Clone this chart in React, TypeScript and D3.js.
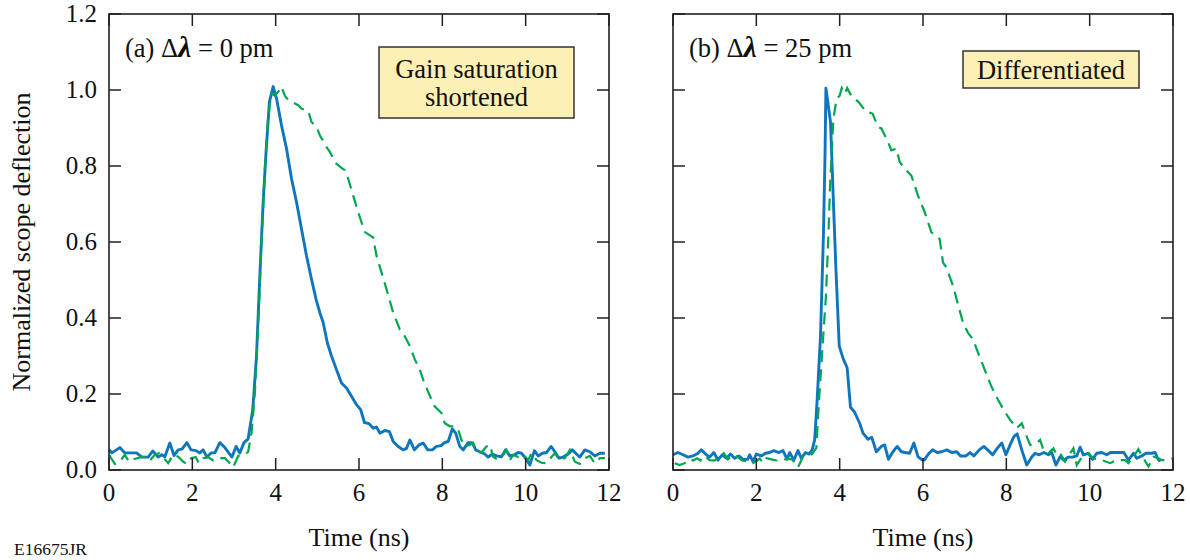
import React from "react";
import * as d3 from "d3";

// ---- data (time in ns, normalized deflection) ----
const TIME_TICKS = [0, 2, 4, 6, 8, 10, 12];
const Y_TICKS = [0, 0.2, 0.4, 0.6, 0.8, 1.0, 1.2];
const Y_TICK_LABELS = ["0.0", "0.2", "0.4", "0.6", "0.8", "1.0", "1.2"];

const leftBlue: [number, number][] = [
  [0, 0.053], [0.07, 0.045], [0.26, 0.059], [0.38, 0.045], [0.66, 0.045], [0.79, 0.034], [0.94, 0.034], [1.05, 0.05],
  [1.18, 0.034], [1.27, 0.04], [1.34, 0.035], [1.46, 0.071], [1.56, 0.038], [1.66, 0.053], [1.75, 0.055], [1.87, 0.072],
  [1.97, 0.053], [2.09, 0.051], [2.18, 0.045], [2.26, 0.053], [2.35, 0.034], [2.45, 0.045], [2.54, 0.045], [2.66, 0.072],
  [2.78, 0.059], [2.95, 0.034], [3.05, 0.062], [3.14, 0.045], [3.24, 0.072], [3.34, 0.082], [3.45, 0.159], [3.54, 0.3],
  [3.62, 0.511], [3.7, 0.705], [3.77, 0.838], [3.85, 0.969], [3.94, 1.009], [4.02, 0.978], [4.14, 0.907], [4.26, 0.846],
  [4.38, 0.767], [4.5, 0.705], [4.62, 0.634], [4.74, 0.564], [4.86, 0.502], [4.97, 0.449], [5.06, 0.414], [5.14, 0.388],
  [5.24, 0.335], [5.34, 0.3], [5.46, 0.264], [5.58, 0.229], [5.7, 0.216], [5.82, 0.194], [5.94, 0.172], [6.04, 0.159],
  [6.13, 0.125], [6.24, 0.122], [6.34, 0.11], [6.42, 0.113], [6.5, 0.097], [6.62, 0.104], [6.73, 0.101], [6.82, 0.075],
  [6.94, 0.062], [7.06, 0.053], [7.14, 0.057], [7.22, 0.079], [7.33, 0.053], [7.44, 0.066], [7.54, 0.071], [7.65, 0.053],
  [7.76, 0.053], [7.86, 0.062], [7.97, 0.064], [8.05, 0.072], [8.14, 0.075], [8.24, 0.108], [8.32, 0.097], [8.42, 0.062],
  [8.5, 0.053], [8.62, 0.072], [8.72, 0.072], [8.8, 0.053], [8.9, 0.048], [9.02, 0.042], [9.1, 0.034], [9.2, 0.042],
  [9.3, 0.037], [9.42, 0.035], [9.52, 0.053], [9.62, 0.037], [9.73, 0.04], [9.82, 0.046], [9.9, 0.044], [10.0, 0.031],
  [10.1, 0.013], [10.21, 0.051], [10.3, 0.037], [10.4, 0.044], [10.5, 0.046], [10.61, 0.062], [10.7, 0.048], [10.8, 0.031],
  [10.9, 0.034], [11.02, 0.042], [11.12, 0.053], [11.22, 0.042], [11.3, 0.034], [11.42, 0.053], [11.54, 0.048], [11.66, 0.037],
  [11.78, 0.044], [11.9, 0.044],
];

const leftGreen: [number, number][] = [
  [0, 0.04], [0.14, 0.016], [0.26, 0.022], [0.38, 0.04], [0.48, 0.022], [0.61, 0.029], [0.78, 0.034], [0.9, 0.035],
  [0.98, 0.025], [1.1, 0.04], [1.2, 0.044], [1.3, 0.034], [1.42, 0.018], [1.54, 0.04], [1.66, 0.035], [1.78, 0.022],
  [1.86, 0.016], [1.97, 0.031], [2.08, 0.034], [2.16, 0.018], [2.26, 0.031], [2.38, 0.034], [2.5, 0.025], [2.66, 0.031],
  [2.78, 0.031], [2.9, 0.018], [2.98, 0.007], [3.1, 0.037], [3.25, 0.04], [3.34, 0.048], [3.42, 0.097], [3.5, 0.2],
  [3.58, 0.38], [3.66, 0.6], [3.74, 0.79], [3.82, 0.93], [3.9, 0.991], [3.98, 0.985], [4.06, 0.995], [4.14, 1.009],
  [4.22, 0.985], [4.3, 0.974], [4.38, 0.969], [4.54, 0.96], [4.62, 0.951], [4.78, 0.945], [4.86, 0.916], [4.98, 0.903],
  [5.06, 0.881], [5.22, 0.85], [5.3, 0.837], [5.46, 0.806], [5.58, 0.795], [5.66, 0.789], [5.74, 0.767], [5.86, 0.722],
  [5.98, 0.679], [6.06, 0.652], [6.14, 0.626], [6.34, 0.612], [6.42, 0.564], [6.54, 0.52], [6.66, 0.476], [6.82, 0.414],
  [6.98, 0.37], [7.1, 0.352], [7.22, 0.326], [7.34, 0.291], [7.46, 0.264], [7.54, 0.238], [7.62, 0.216], [7.74, 0.185],
  [7.82, 0.167], [7.98, 0.15], [8.06, 0.123], [8.18, 0.115], [8.3, 0.115], [8.38, 0.106], [8.46, 0.079], [8.54, 0.062],
  [8.66, 0.066], [8.74, 0.071], [8.82, 0.048], [8.94, 0.046], [9.06, 0.062], [9.14, 0.066], [9.22, 0.035], [9.34, 0.026],
  [9.46, 0.04], [9.54, 0.053], [9.62, 0.026], [9.7, 0.04], [9.82, 0.034], [9.94, 0.04], [10.06, 0.026], [10.14, 0.044],
  [10.26, 0.026], [10.38, 0.019], [10.5, 0.018], [10.62, 0.034], [10.7, 0.044], [10.82, 0.026], [10.94, 0.031], [11.06, 0.053],
  [11.18, 0.022], [11.3, 0.016], [11.42, 0.031], [11.54, 0.037], [11.66, 0.018], [11.78, 0.031], [11.9, 0.031],
];

const rightBlue: [number, number][] = [
  [0, 0.04], [0.12, 0.046], [0.24, 0.04], [0.36, 0.034], [0.48, 0.037], [0.6, 0.044], [0.68, 0.053], [0.8, 0.04],
  [0.88, 0.034], [0.98, 0.046], [1.08, 0.026], [1.18, 0.04], [1.28, 0.031], [1.38, 0.042], [1.48, 0.031], [1.58, 0.037],
  [1.68, 0.028], [1.79, 0.028], [1.84, 0.04], [1.92, 0.022], [2.0, 0.042], [2.12, 0.037], [2.22, 0.044], [2.32, 0.046],
  [2.42, 0.051], [2.54, 0.046], [2.64, 0.051], [2.74, 0.028], [2.8, 0.046], [2.9, 0.026], [3.0, 0.051], [3.08, 0.031],
  [3.18, 0.046], [3.26, 0.042], [3.34, 0.053], [3.4, 0.079], [3.46, 0.185], [3.54, 0.352], [3.61, 0.617], [3.65, 0.837],
  [3.67, 1.005], [3.78, 0.916], [3.85, 0.705], [3.91, 0.529], [3.99, 0.326], [4.09, 0.291], [4.18, 0.269], [4.26, 0.165],
  [4.36, 0.152], [4.48, 0.123], [4.56, 0.097], [4.68, 0.081], [4.77, 0.086], [4.88, 0.048], [5.0, 0.062], [5.08, 0.066],
  [5.17, 0.028], [5.28, 0.048], [5.38, 0.062], [5.48, 0.048], [5.57, 0.046], [5.68, 0.044], [5.78, 0.071], [5.88, 0.035],
  [5.96, 0.028], [6.03, 0.026], [6.13, 0.042], [6.23, 0.053], [6.34, 0.046], [6.45, 0.048], [6.57, 0.053], [6.69, 0.046],
  [6.81, 0.048], [6.9, 0.037], [7.03, 0.037], [7.13, 0.046], [7.22, 0.037], [7.35, 0.053], [7.46, 0.062], [7.57, 0.051],
  [7.67, 0.04], [7.78, 0.057], [7.89, 0.071], [7.99, 0.04], [8.09, 0.066], [8.18, 0.088], [8.26, 0.095], [8.37, 0.053],
  [8.49, 0.013], [8.61, 0.034], [8.69, 0.044], [8.79, 0.04], [8.9, 0.046], [9.01, 0.04], [9.09, 0.046], [9.19, 0.013],
  [9.29, 0.035], [9.38, 0.026], [9.49, 0.034], [9.59, 0.034], [9.69, 0.037], [9.77, 0.06], [9.85, 0.04], [9.97, 0.044],
  [10.07, 0.028], [10.17, 0.044], [10.29, 0.046], [10.41, 0.04], [10.5, 0.046], [10.62, 0.046], [10.73, 0.046], [10.82, 0.046],
  [10.93, 0.026], [11.05, 0.044], [11.13, 0.031], [11.25, 0.037], [11.35, 0.044], [11.49, 0.044], [11.57, 0.046], [11.63, 0.031],
  [11.69, 0.022],
];

const rightGreen: [number, number][] = [
  [0.04, 0.018], [0.16, 0.013], [0.28, 0.018], [0.38, 0.028], [0.48, 0.025], [0.58, 0.031], [0.66, 0.025], [0.76, 0.037],
  [0.88, 0.026], [1.0, 0.025], [1.12, 0.034], [1.22, 0.044], [1.32, 0.028], [1.44, 0.04], [1.56, 0.034], [1.66, 0.025],
  [1.8, 0.022], [1.9, 0.016], [1.98, 0.022], [2.08, 0.03], [2.16, 0.019], [2.24, 0.031], [2.36, 0.028], [2.48, 0.025],
  [2.64, 0.025], [2.74, 0.031], [2.86, 0.028], [3.0, 0.007], [3.12, 0.035], [3.22, 0.037], [3.34, 0.042], [3.44, 0.058],
  [3.5, 0.176], [3.59, 0.326], [3.67, 0.458], [3.73, 0.617], [3.77, 0.749], [3.81, 0.837], [3.85, 0.925], [3.93, 0.978],
  [4.0, 0.985], [4.05, 1.005], [4.12, 0.99], [4.18, 1.005], [4.29, 0.983], [4.45, 0.969], [4.63, 0.943], [4.79, 0.938],
  [4.92, 0.903], [5.0, 0.899], [5.16, 0.864], [5.24, 0.841], [5.36, 0.846], [5.44, 0.811], [5.56, 0.793], [5.72, 0.775],
  [5.88, 0.722], [6.04, 0.679], [6.2, 0.626], [6.4, 0.608], [6.48, 0.546], [6.56, 0.533], [6.72, 0.485], [6.84, 0.436],
  [6.96, 0.388], [7.08, 0.361], [7.2, 0.344], [7.32, 0.309], [7.48, 0.264], [7.64, 0.22], [7.8, 0.185], [7.96, 0.154],
  [8.09, 0.132], [8.25, 0.11], [8.37, 0.123], [8.49, 0.088], [8.57, 0.066], [8.73, 0.071], [8.81, 0.079], [8.89, 0.053],
  [9.01, 0.044], [9.13, 0.057], [9.21, 0.04], [9.29, 0.044], [9.41, 0.022], [9.53, 0.044], [9.61, 0.057], [9.69, 0.013],
  [9.85, 0.04], [9.97, 0.044], [10.09, 0.031], [10.29, 0.026], [10.49, 0.018], [10.65, 0.026], [10.85, 0.026], [10.93, 0.018],
  [11.05, 0.035], [11.17, 0.055], [11.29, 0.031], [11.41, 0.009], [11.53, 0.035], [11.65, 0.031], [11.73, 0.026], [11.85, 0.026],
  [11.97, 0.031],
];

const PANEL_LABELS = ["(a)", "(b)"];
const PANEL_DELTAS = ["0 pm", "25 pm"];
const NOTE_A = ["Gain saturation", "shortened"];
const NOTE_B = ["Differentiated"];
const X_TITLE = "Time (ns)";
const Y_TITLE = "Normalized scope deflection";
const FIG_ID = "E16675JR";

const BLUE = "#0f76bd";
const GREEN = "#00a651";
const FONT = "Liberation Serif";
const TXT: React.CSSProperties = { fontFamily: '"Liberation Serif", "Times New Roman", Tinos, "DejaVu Serif", serif' };

const TOP = 14;
const BOTTOM = 470;
const TICK = 12;

type PanelProps = {
  x0: number;
  x1: number;
  blue: [number, number][];
  green: [number, number][];
  showYLabels: boolean;
  tag: string;
  delta: string;
  tagX: number;
  note: string[];
  box: { x: number; y: number; w: number; h: number };
};

function Panel(p: PanelProps) {
  const x = d3.scaleLinear().domain([0, 12]).range([p.x0, p.x1]);
  const y = d3.scaleLinear().domain([0, 1.2]).range([BOTTOM, TOP]);
  const line = d3
    .line<[number, number]>()
    .x((d) => x(d[0]))
    .y((d) => y(d[1]));
  const cx = p.box.x + p.box.w / 2;
  const lineGap = 28;
  const firstBase = p.note.length === 1 ? p.box.y + p.box.h / 2 + 9 : p.box.y + p.box.h / 2 - 5;
  return (
    <g>
      <path d={line(p.blue) || ""} fill="none" stroke={BLUE} strokeWidth={2.9} strokeLinejoin="round" />
      <path d={line(p.green) || ""} fill="none" stroke={GREEN} strokeWidth={2.2} strokeDasharray="12,7" />
      <rect x={p.x0} y={TOP} width={p.x1 - p.x0} height={BOTTOM - TOP} fill="none" stroke="#231f20" strokeWidth={1.6} />
      {TIME_TICKS.map((t) => (
        <g key={"xt" + t}>
          <line x1={x(t)} x2={x(t)} y1={BOTTOM} y2={BOTTOM - TICK} stroke="#231f20" strokeWidth={1.5} />
          <line x1={x(t)} x2={x(t)} y1={TOP} y2={TOP + TICK} stroke="#231f20" strokeWidth={1.5} />
          <text x={x(t)} y={BOTTOM + 31} textAnchor="middle" fontSize={25} style={TXT} fill="#111">
            {t}
          </text>
        </g>
      ))}
      {Y_TICKS.map((v, i) => (
        <g key={"yt" + i}>
          <line x1={p.x0} x2={p.x0 + TICK} y1={y(v)} y2={y(v)} stroke="#231f20" strokeWidth={1.5} />
          <line x1={p.x1} x2={p.x1 - TICK} y1={y(v)} y2={y(v)} stroke="#231f20" strokeWidth={1.5} />
          {p.showYLabels && (
            <text x={p.x0 - 12} y={y(v) + 8} textAnchor="end" fontSize={25} style={TXT} fill="#111">
              {Y_TICK_LABELS[i]}
            </text>
          )}
        </g>
      ))}
      <text x={p.tagX} y={57} fontSize={26.5} style={TXT} fill="#111">
        {p.tag} Δ<tspan fontStyle="italic" fontWeight="bold" fontSize={30}>λ</tspan> = {p.delta}
      </text>
      <rect x={p.box.x} y={p.box.y} width={p.box.w} height={p.box.h} fill="#fdf0b4" stroke="#333" strokeWidth={1.5} />
      {p.note.map((s, i) => (
        <text key={s} x={cx} y={firstBase + i * lineGap} textAnchor="middle" fontSize={26.5} style={TXT} fill="#111">
          {s}
        </text>
      ))}
      <text x={(p.x0 + p.x1) / 2} y={546} textAnchor="middle" fontSize={26} style={TXT} fill="#111">
        {X_TITLE}
      </text>
    </g>
  );
}

export default function App() {
  return (
    <svg
      width={1190}
      height={560}
      viewBox="0 0 1190 560"
      style={{ position: "absolute", left: 0, top: 0, background: "#fff" }}
      fontFamily={FONT}
    >
      <rect x={0} y={0} width={1190} height={560} fill="#fff" />
      <Panel
        x0={109}
        x1={609}
        blue={leftBlue}
        green={leftGreen}
        showYLabels={true}
        tag={PANEL_LABELS[0]}
        delta={PANEL_DELTAS[0]}
        tagX={125}
        note={NOTE_A}
        box={{ x: 379, y: 47, w: 195, h: 71 }}
      />
      <Panel
        x0={673}
        x1={1173}
        blue={rightBlue}
        green={rightGreen}
        showYLabels={false}
        tag={PANEL_LABELS[1]}
        delta={PANEL_DELTAS[1]}
        tagX={689}
        note={NOTE_B}
        box={{ x: 963, y: 51, w: 176, h: 37 }}
      />
      <text transform="translate(30,242) rotate(-90)" textAnchor="middle" fontSize={26} style={TXT} fill="#111">
        {Y_TITLE}
      </text>
      <text x={14} y={555} fontSize={17.5} style={TXT} fill="#111">
        {FIG_ID}
      </text>
    </svg>
  );
}
